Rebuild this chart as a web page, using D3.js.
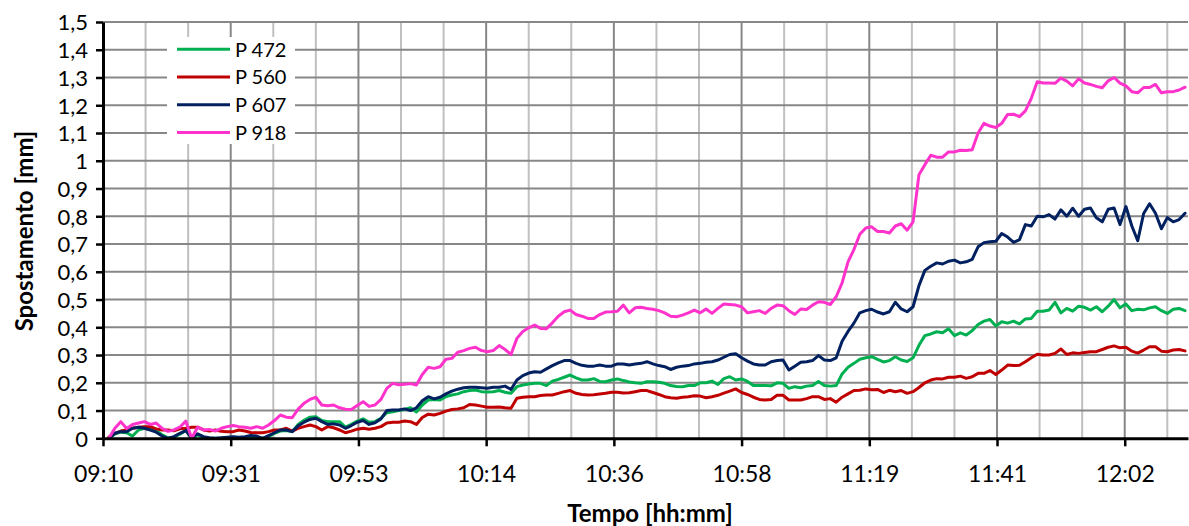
<!DOCTYPE html>
<html>
<head>
<meta charset="utf-8">
<script src="https://cdn.jsdelivr.net/npm/d3@7"></script>
<style>
  body { margin: 0; background: #fff; }
  svg { display: block; }
  text { font-family: Lato, "Open Sans", sans-serif; fill: #000; }
</style>
</head>
<body>
<svg id="chart" width="1189" height="526"></svg>
<script>
// Displacement readings (mm), one sample per minute starting at 09:11
const seriesNames = ["P 472", "P 560", "P 607", "P 918"];
const seriesColors = ["#00B050", "#C00000", "#002060", "#FF33CC"];
const sampleStart = "09:11";
const sampleStepMinutes = 1;

// Time axis: Excel-style date axis with a 21.6 min major unit
const axisStart = "09:10";
const axisSpanMinutes = 183.5;
const majorUnitMinutes = 21.6;
const minorUnitMinutes = 7.2;
const yTicks = [0, 0.1, 0.2, 0.3, 0.4, 0.5, 0.6, 0.7, 0.8, 0.9, 1, 1.1, 1.2, 1.3, 1.4, 1.5];

const p472 = [
  0.0,0.015,0.022,0.02,0.008,0.03,0.036,0.032,0.028,0.012,
  0.002,0.004,0.015,0.028,0.0,0.012,0.002,0.0,0.0,0.0,
  0.002,0.004,0.0,0.002,0.006,0.004,0.0,0.006,0.018,0.026,
  0.028,0.024,0.05,0.065,0.076,0.078,0.064,0.06,0.06,0.06,
  0.04,0.05,0.062,0.07,0.058,0.06,0.072,0.092,0.096,0.1,
  0.104,0.11,0.095,0.12,0.138,0.14,0.138,0.15,0.156,0.16,
  0.168,0.172,0.174,0.168,0.167,0.168,0.172,0.166,0.162,0.186,
  0.192,0.196,0.198,0.198,0.19,0.206,0.212,0.22,0.228,0.218,
  0.21,0.21,0.215,0.205,0.204,0.21,0.214,0.208,0.203,0.2,
  0.198,0.204,0.204,0.202,0.198,0.19,0.187,0.186,0.19,0.19,
  0.2,0.2,0.206,0.194,0.215,0.222,0.21,0.214,0.205,0.19,
  0.19,0.19,0.189,0.2,0.198,0.18,0.186,0.182,0.188,0.19,
  0.205,0.19,0.188,0.19,0.232,0.256,0.27,0.285,0.29,0.294,
  0.284,0.275,0.28,0.294,0.282,0.277,0.29,0.335,0.37,0.376,
  0.384,0.38,0.395,0.37,0.38,0.372,0.388,0.41,0.422,0.428,
  0.405,0.42,0.415,0.422,0.412,0.43,0.432,0.458,0.458,0.462,
  0.49,0.452,0.468,0.458,0.476,0.472,0.462,0.474,0.456,0.476,
  0.5,0.47,0.484,0.46,0.465,0.463,0.47,0.474,0.46,0.45,
  0.465,0.468,0.46
];

const p560 = [
  0.005,0.018,0.026,0.03,0.036,0.04,0.042,0.042,0.034,0.03,
  0.03,0.027,0.034,0.036,0.04,0.04,0.03,0.026,0.03,0.025,
  0.024,0.024,0.03,0.026,0.021,0.02,0.02,0.024,0.03,0.03,
  0.036,0.026,0.036,0.042,0.048,0.042,0.03,0.042,0.038,0.03,
  0.02,0.026,0.033,0.036,0.033,0.036,0.042,0.055,0.058,0.058,
  0.062,0.06,0.05,0.075,0.087,0.084,0.09,0.098,0.104,0.106,
  0.11,0.122,0.12,0.116,0.112,0.112,0.113,0.11,0.108,0.144,
  0.148,0.15,0.15,0.154,0.156,0.156,0.162,0.168,0.172,0.162,
  0.158,0.156,0.157,0.16,0.162,0.166,0.166,0.163,0.164,0.168,
  0.172,0.172,0.165,0.158,0.15,0.146,0.144,0.148,0.15,0.153,
  0.152,0.146,0.15,0.155,0.163,0.17,0.178,0.165,0.158,0.148,
  0.14,0.138,0.14,0.155,0.155,0.138,0.138,0.138,0.143,0.15,
  0.15,0.14,0.143,0.13,0.148,0.16,0.172,0.173,0.178,0.175,
  0.176,0.165,0.173,0.168,0.172,0.162,0.168,0.183,0.2,0.21,
  0.215,0.214,0.22,0.22,0.224,0.216,0.222,0.234,0.234,0.244,
  0.23,0.246,0.264,0.262,0.263,0.276,0.29,0.303,0.3,0.3,
  0.306,0.322,0.302,0.308,0.306,0.309,0.312,0.312,0.32,0.328,
  0.333,0.326,0.328,0.314,0.307,0.318,0.33,0.33,0.314,0.312,
  0.318,0.32,0.315
];

const p607 = [
  0.0,0.018,0.024,0.024,0.036,0.04,0.036,0.03,0.022,0.008,
  0.0,0.006,0.018,0.028,0.002,0.016,0.006,0.002,0.0,0.002,
  0.004,0.006,0.004,0.006,0.01,0.008,0.0,0.01,0.02,0.03,
  0.03,0.024,0.045,0.058,0.068,0.072,0.06,0.05,0.052,0.048,
  0.036,0.046,0.058,0.064,0.05,0.056,0.07,0.1,0.102,0.102,
  0.106,0.1,0.11,0.135,0.15,0.142,0.148,0.16,0.17,0.177,
  0.182,0.184,0.184,0.182,0.18,0.184,0.184,0.188,0.176,0.21,
  0.226,0.235,0.24,0.238,0.25,0.262,0.272,0.28,0.28,0.27,
  0.263,0.26,0.26,0.264,0.26,0.26,0.268,0.268,0.264,0.268,
  0.27,0.276,0.268,0.262,0.258,0.248,0.256,0.26,0.262,0.268,
  0.27,0.274,0.276,0.282,0.292,0.302,0.305,0.29,0.278,0.268,
  0.264,0.264,0.276,0.28,0.282,0.246,0.26,0.274,0.276,0.28,
  0.298,0.282,0.28,0.29,0.35,0.385,0.415,0.452,0.46,0.465,
  0.455,0.448,0.456,0.49,0.466,0.456,0.474,0.55,0.605,0.62,
  0.632,0.628,0.638,0.642,0.632,0.636,0.645,0.69,0.705,0.708,
  0.71,0.738,0.725,0.706,0.716,0.77,0.765,0.8,0.798,0.806,
  0.79,0.823,0.8,0.829,0.8,0.825,0.83,0.795,0.78,0.825,
  0.83,0.77,0.835,0.765,0.712,0.81,0.845,0.811,0.755,0.795,
  0.78,0.788,0.811
];

const p918 = [
  0.0,0.036,0.06,0.035,0.05,0.055,0.06,0.05,0.055,0.036,
  0.025,0.03,0.04,0.062,0.0,0.04,0.03,0.032,0.026,0.036,
  0.042,0.046,0.042,0.04,0.036,0.042,0.036,0.048,0.064,0.084,
  0.076,0.074,0.105,0.126,0.14,0.148,0.12,0.117,0.12,0.11,
  0.105,0.104,0.118,0.132,0.115,0.12,0.14,0.18,0.198,0.193,
  0.195,0.197,0.192,0.23,0.256,0.252,0.258,0.285,0.288,0.31,
  0.316,0.324,0.328,0.316,0.312,0.316,0.334,0.32,0.302,0.36,
  0.385,0.398,0.408,0.396,0.395,0.416,0.44,0.456,0.462,0.446,
  0.44,0.432,0.432,0.446,0.455,0.456,0.458,0.48,0.452,0.47,
  0.472,0.468,0.465,0.46,0.452,0.44,0.438,0.444,0.452,0.462,
  0.452,0.466,0.45,0.468,0.484,0.482,0.48,0.474,0.452,0.456,
  0.46,0.45,0.468,0.48,0.478,0.46,0.446,0.466,0.464,0.48,
  0.492,0.49,0.482,0.51,0.56,0.636,0.68,0.735,0.758,0.762,
  0.745,0.745,0.74,0.765,0.773,0.75,0.78,0.95,0.986,1.02,
  1.013,1.013,1.032,1.032,1.038,1.037,1.04,1.1,1.135,1.125,
  1.12,1.135,1.167,1.168,1.159,1.18,1.225,1.285,1.28,1.28,
  1.279,1.298,1.287,1.27,1.295,1.28,1.275,1.268,1.263,1.288,
  1.3,1.28,1.27,1.249,1.245,1.264,1.264,1.275,1.245,1.249,
  1.249,1.255,1.265
];

const seriesValues = [p472, p560, p607, p918];

// ---- layout ----
const plot = { left: 103, right: 1188, top: 22, bottom: 438.3 };
const MIN = 60000;
const parseHM = d3.timeParse("%H:%M");
const t0 = parseHM(axisStart);
const tSample0 = parseHM(sampleStart);
const tEnd = new Date(+t0 + axisSpanMinutes * MIN);

const x = d3.scaleTime().domain([t0, tEnd]).range([plot.left, plot.right]);
const y = d3.scaleLinear().domain([0, 1.5]).range([plot.bottom, plot.top]);

const majorTicks = d3.range(0, Math.floor(axisSpanMinutes / majorUnitMinutes) + 1)
  .map(i => new Date(+t0 + i * majorUnitMinutes * MIN));
const minorTicks = d3.range(0, Math.floor(axisSpanMinutes / minorUnitMinutes) + 1)
  .map(i => new Date(+t0 + i * minorUnitMinutes * MIN));

const itLocale = d3.formatLocale({ decimal: ",", thousands: ".", grouping: [3], currency: ["€", ""] });
const fmtY = itLocale.format(".1~f");
const fmtX = d3.timeFormat("%H:%M");

const svg = d3.select("#chart");

// ---- gridlines ----
const grid = svg.append("g");
grid.selectAll(".minor").data(minorTicks.filter((d, i) => i % 3 !== 0))
  .enter().append("line")
  .attr("x1", d => x(d)).attr("x2", d => x(d))
  .attr("y1", plot.top).attr("y2", plot.bottom)
  .attr("stroke", "#c0c0c0").attr("stroke-width", 2);
grid.selectAll(".major").data(majorTicks.slice(1))
  .enter().append("line")
  .attr("x1", d => x(d)).attr("x2", d => x(d))
  .attr("y1", plot.top).attr("y2", plot.bottom)
  .attr("stroke", "#878787").attr("stroke-width", 2);
grid.selectAll(".hgrid").data(yTicks.slice(1))
  .enter().append("line")
  .attr("x1", plot.left).attr("x2", plot.right)
  .attr("y1", d => y(d)).attr("y2", d => y(d))
  .attr("stroke", "#878787").attr("stroke-width", 2);

// ---- series ----
const line = d3.line()
  .x((d, i) => x(new Date(+tSample0 + i * sampleStepMinutes * MIN)))
  .y(d => y(d));

svg.append("g").selectAll("path")
  .data(seriesValues)
  .enter().append("path")
  .attr("d", d => line(d))
  .attr("fill", "none")
  .attr("stroke", (d, i) => seriesColors[i])
  .attr("stroke-width", 3)
  .attr("stroke-linejoin", "round")
  .attr("stroke-linecap", "round");

// ---- axes ----
const yAxis = svg.append("g")
  .attr("transform", `translate(${plot.left},0)`)
  .call(d3.axisLeft(y).tickValues(yTicks).tickFormat(fmtY).tickSize(7).tickSizeOuter(0).tickPadding(8));
yAxis.select(".domain").attr("stroke", "#000").attr("stroke-width", 3);
yAxis.selectAll(".tick line").attr("stroke", "#000").attr("stroke-width", 2.5);
yAxis.selectAll(".tick text")
  .attr("font-family", "Lato, sans-serif")
  .attr("font-size", 22)
  .attr("dy", "0.36em")
  .attr("fill", "#000");

const xAxis = svg.append("g")
  .attr("transform", `translate(0,${plot.bottom})`)
  .call(d3.axisBottom(x).tickValues(majorTicks).tickFormat(fmtX).tickSize(8).tickSizeOuter(0));
xAxis.select(".domain").attr("stroke", "#000").attr("stroke-width", 3);
xAxis.selectAll(".tick line").attr("stroke", "#000").attr("stroke-width", 2.5);
xAxis.selectAll(".tick text")
  .attr("font-family", "Lato, sans-serif")
  .attr("font-size", 23)
  .attr("y", 43.4)
  .attr("dy", null)
  .attr("fill", "#000");

// ---- axis titles ----
svg.append("text")
  .attr("x", 650).attr("y", 521.5)
  .attr("text-anchor", "middle")
  .attr("font-size", 24).attr("font-weight", "bold")
  .text("Tempo [hh:mm]");

svg.append("text")
  .attr("transform", "translate(33,231) rotate(-90)")
  .attr("text-anchor", "middle")
  .attr("font-size", 24).attr("font-weight", "bold")
  .text("Spostamento [mm]");

// ---- legend ----
const legend = svg.append("g");
legend.append("rect")
  .attr("x", 167).attr("y", 37).attr("width", 128).attr("height", 107)
  .attr("fill", "#fff");
const rowY = i => 49.3 + i * 27.75;
seriesNames.forEach((name, i) => {
  legend.append("line")
    .attr("x1", 177).attr("x2", 230)
    .attr("y1", rowY(i)).attr("y2", rowY(i))
    .attr("stroke", seriesColors[i]).attr("stroke-width", 3);
  legend.append("text")
    .attr("x", 235).attr("y", rowY(i))
    .attr("dy", "0.36em")
    .attr("font-size", 20)
    .text(name);
});
</script>
</body>
</html>
